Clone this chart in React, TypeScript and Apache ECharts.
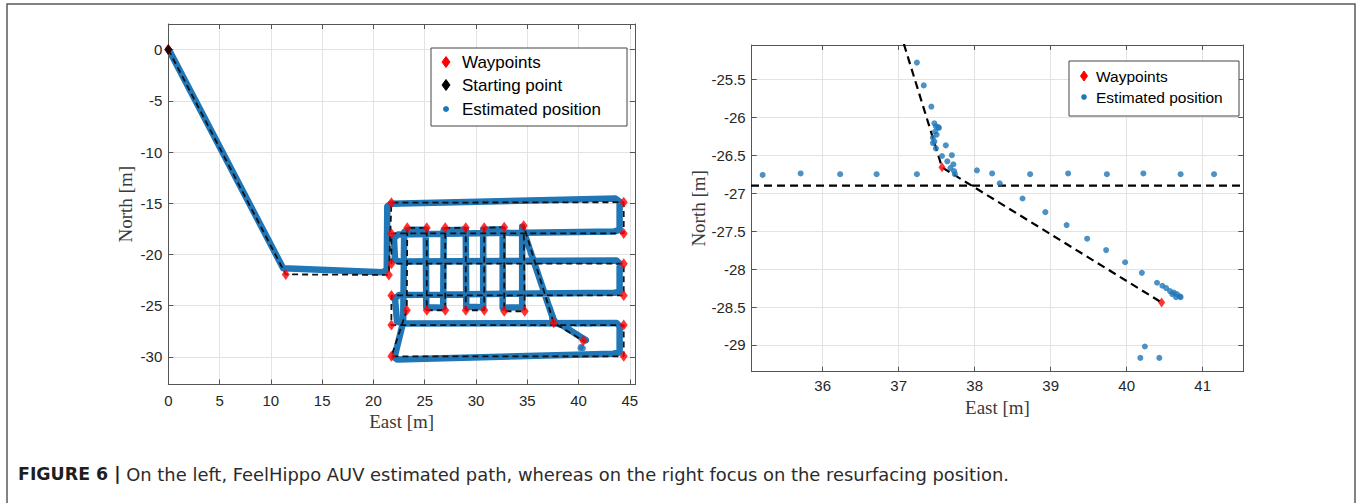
import React, { useEffect, useRef } from "react";
import * as echarts from "echarts";

// ---- Data -------------------------------------------------------------
// Waypoints of the planned mission (also the vertices of the dashed planned path)
const waypointEast = [0, 11.45, 21.5, 21.75, 44.4, 44.4, 21.75, 21.75, 44.4, 44.4, 21.75, 21.75, 44.4, 44.4, 21.75, 23.25, 23.3, 25.2, 25.2, 27.0, 27.0, 29.0, 29.0, 30.8, 30.8, 32.75, 32.75, 34.75, 34.65, 37.57, 40.46];
const waypointNorth = [0, -21.95, -22.0, -14.95, -14.9, -17.95, -17.95, -20.9, -20.9, -24.0, -24.0, -26.9, -26.9, -29.95, -29.95, -25.45, -17.4, -17.4, -25.45, -25.45, -17.4, -17.4, -25.45, -25.45, -17.4, -17.35, -25.55, -25.55, -17.2, -26.66, -28.44];

// Starting point
const startEast = [0];
const startNorth = [0];

// Estimated trajectory (overview, left panel)
const trackEast = [0.1, 11.2, 20.9, 21.3, 21.35, 21.7, 43.6, 44.0, 44.0, 43.5, 22.4, 22.0, 22.1, 22.6, 43.7, 44.0, 44.0, 43.5, 22.5, 22.1, 22.3, 22.8, 43.7, 44.0, 44.0, 43.4, 22.3, 22.05, 22.9, 23.0, 23.4, 25.1, 25.15, 26.8, 26.85, 29.0, 29.05, 30.7, 30.7, 32.6, 32.6, 34.5, 34.5, 37.45, 37.5, 37.72, 38.33, 40.2, 40.7];
const trackNorth = [-0.1, -21.35, -21.75, -21.5, -15.3, -15.05, -14.55, -14.85, -17.6, -17.75, -18.05, -18.4, -20.55, -20.7, -20.6, -20.9, -23.6, -23.75, -23.95, -24.3, -26.55, -26.75, -26.7, -27.0, -29.55, -29.7, -30.25, -30.05, -26.6, -17.8, -17.6, -17.6, -25.15, -25.2, -17.65, -17.6, -25.1, -25.15, -17.6, -17.55, -25.2, -25.15, -17.3, -26.1, -26.3, -26.7, -26.87, -28.05, -28.37];

// Estimated positions near the resurfacing point (right panel)
const fixEast = [35.21, 35.71, 36.23, 36.71, 37.24, 38.03, 38.23, 38.73, 39.23, 39.74, 40.22, 40.71, 41.15,
  37.24, 37.33, 37.43, 37.47, 37.49, 37.52, 37.48, 37.5, 37.45, 37.47, 37.45, 37.49, 37.53,
  37.62, 37.57, 37.7, 37.64, 37.72, 37.68, 37.73, 37.74,
  38.33, 38.63, 38.93, 39.21, 39.48, 39.73, 39.98, 40.2,
  40.4, 40.47, 40.52, 40.57, 40.62, 40.66, 40.7, 40.71, 40.65, 40.6,
  40.24, 40.18, 40.43];
const fixNorth = [-26.76, -26.74, -26.75, -26.75, -26.75, -26.7, -26.74, -26.75, -26.74, -26.75, -26.74, -26.75, -26.75,
  -25.28, -25.58, -25.86, -26.08, -26.12, -26.13, -26.19, -26.23, -26.27, -26.32, -26.34, -26.41, -26.14,
  -26.37, -26.51, -26.5, -26.58, -26.62, -26.67, -26.71, -26.75,
  -26.87, -27.07, -27.25, -27.42, -27.6, -27.75, -27.91, -28.05,
  -28.18, -28.22, -28.25, -28.29, -28.31, -28.33, -28.36, -28.37, -28.37, -28.33,
  -29.02, -29.17, -29.17];

// Axis ranges and tick labels
const leftEastRange = [0, 45.5];
const leftNorthRange = [-32.7, 2.5];
const rightEastRange = [35.066, 41.535];
const rightNorthRange = [-29.352, -25.048];
const leftEastTicks = [0, 5, 10, 15, 20, 25, 30, 35, 40, 45];
const leftNorthTicks = [0, -5, -10, -15, -20, -25, -30];
const rightEastTicks = [36, 37, 38, 39, 40, 41];
const rightNorthTicks = [-25.5, -26, -26.5, -27, -27.5, -28, -28.5, -29];

const legendLeftLabels = ["Waypoints", "Starting point", "Estimated position"];
const legendRightLabels = ["Waypoints", "Estimated position"];
const captionBold = "FIGURE 6 |";
const captionText = " On the left, FeelHippo AUV estimated path, whereas on the right focus on the resurfacing position.";

// ---- Styling ---------------------------------------------------------
const BLUE = "#2077b8";
const RED = "#ff0000";
const SANS = "Liberation Sans, Arial, sans-serif";
const CAPTION_FONT = "DejaVu Sans, Liberation Sans, sans-serif";
const SERIF = "Liberation Serif, Times New Roman, serif";
const AXIS_COLOR = "#555";

const pairs = (xs: number[], ys: number[]) => xs.map((x, i) => [x, ys[i]]);
const tickFormatter = (ticks: number[]) => (v: number) =>
  ticks.some((t) => Math.abs(t - v) < 1e-6) ? String(v) : "";

function makeAxes(
  gridIndex: number,
  range: number[],
  splitNumber: number,
  ticks: number[],
  isX: boolean,
  name: string,
  nameGap: number,
  labelMargin: number
) {
  const common = {
    type: "value",
    gridIndex,
    min: range[0],
    max: range[1],
    splitNumber,
    axisLine: { show: true, onZero: false, lineStyle: { color: AXIS_COLOR, width: 1 } },
    axisTick: { show: true, inside: true, length: 5, lineStyle: { color: AXIS_COLOR, width: 1 } },
  };
  const primary = {
    ...common,
    position: isX ? "bottom" : "left",
    axisLabel: {
      show: true,
      margin: labelMargin,
      fontSize: 15,
      color: "#262626",
      fontFamily: SANS,
      formatter: tickFormatter(ticks),
      showMinLabel: true,
      showMaxLabel: true,
    },
    splitLine: { show: true, lineStyle: { color: "#e3e3e3", width: 1 } },
    name,
    nameLocation: "middle",
    nameGap,
    nameTextStyle: { fontFamily: SERIF, fontSize: 19, color: "#3a3a3a" },
  };
  const secondary = {
    ...common,
    position: isX ? "top" : "right",
    axisLabel: { show: false },
    splitLine: { show: false },
  };
  return [primary, secondary];
}

function diamond(cx: number, cy: number, w: number, h: number, color: string) {
  return {
    type: "polygon",
    z: 101,
    shape: { points: [[cx, cy - h / 2], [cx + w / 2, cy], [cx, cy + h / 2], [cx - w / 2, cy]] },
    style: { fill: color, stroke: color },
  };
}

function legendText(x: number, y: number, text: string, size: number) {
  return {
    type: "text",
    z: 101,
    x,
    y,
    style: { text, fontSize: size, fontFamily: SANS, fill: "#000", verticalAlign: "middle", align: "left" },
  };
}

export default function App() {
  const ref = useRef<HTMLDivElement>(null);

  useEffect(() => {
    if (!ref.current) return;
    const chart = echarts.init(ref.current, undefined, { renderer: "svg" });

    const [lx0, lx1] = makeAxes(0, leftEastRange, 9, leftEastTicks, true, "East [m]", 26, 8);
    const [ly0, ly1] = makeAxes(0, leftNorthRange, 7, leftNorthTicks, false, "North [m]", 33, 6);
    const [rx0, rx1] = makeAxes(1, rightEastRange, 6, rightEastTicks, true, "East [m]", 20, 6);
    const [ry0, ry1] = makeAxes(1, rightNorthRange, 8, rightNorthTicks, false, "North [m]", 39, 6);

    const option = {
      animation: false,
      backgroundColor: "#ffffff",
      grid: [
        { left: 168.3, top: 24, width: 466.7, height: 360.5, containLabel: false },
        { left: 751.7, top: 45, width: 491.6, height: 326.7, containLabel: false },
      ],
      xAxis: [lx0, lx1, rx0, rx1],
      yAxis: [ly0, ly1, ry0, ry1],
      series: [
        {
          name: "Estimated position",
          type: "line",
          xAxisIndex: 0,
          yAxisIndex: 0,
          data: pairs(trackEast, trackNorth),
          showSymbol: false,
          symbol: "none",
          lineStyle: { color: BLUE, width: 6.5, cap: "round", join: "round" },
          z: 2,
        },
        {
          name: "Estimated position fixes",
          type: "scatter",
          xAxisIndex: 0,
          yAxisIndex: 0,
          data: pairs(fixEast, fixNorth),
          symbol: "circle",
          symbolSize: 6,
          itemStyle: { color: BLUE },
          z: 2,
        },
        {
          name: "Planned path",
          type: "line",
          xAxisIndex: 0,
          yAxisIndex: 0,
          data: pairs(waypointEast, waypointNorth),
          symbol: "none",
          lineStyle: { color: "#111", width: 1.8, type: [6, 4] },
          z: 3,
        },
        {
          name: "Waypoints",
          type: "scatter",
          xAxisIndex: 0,
          yAxisIndex: 0,
          data: pairs(waypointEast, waypointNorth),
          symbol: "diamond",
          symbolSize: [8, 11],
          itemStyle: { color: RED },
          z: 4,
        },
        {
          name: "Starting point",
          type: "scatter",
          xAxisIndex: 0,
          yAxisIndex: 0,
          data: pairs(startEast, startNorth),
          symbol: "diamond",
          symbolSize: [8, 11],
          itemStyle: { color: "#000" },
          z: 5,
        },
        {
          name: "Planned path (zoom)",
          type: "line",
          xAxisIndex: 2,
          yAxisIndex: 2,
          data: pairs(waypointEast, waypointNorth),
          symbol: "none",
          lineStyle: { color: "#000", width: 2.2, type: [8, 5] },
          z: 2,
        },
        {
          name: "Estimated position (zoom)",
          type: "scatter",
          xAxisIndex: 2,
          yAxisIndex: 2,
          data: pairs(fixEast, fixNorth),
          symbol: "circle",
          symbolSize: 6,
          itemStyle: { color: BLUE },
          z: 3,
        },
        {
          name: "Waypoints (zoom)",
          type: "scatter",
          xAxisIndex: 2,
          yAxisIndex: 2,
          data: pairs(waypointEast, waypointNorth),
          symbol: "diamond",
          symbolSize: [7, 10],
          itemStyle: { color: RED },
          z: 4,
        },
      ],
      graphic: [
        {
          type: "rect",
          z: 0,
          shape: { x: 7, y: 4, width: 1348, height: 530 },
          style: { fill: "none", stroke: "#5a5a5a", lineWidth: 1.5 },
        },
        {
          type: "text",
          z: 101,
          x: 18,
          y: 474,
          style: {
            text: `{b|${captionBold}}${captionText}`,
            fontSize: 17.9,
            fontFamily: CAPTION_FONT,
            fill: "#2b2b2b",
            verticalAlign: "middle",
            rich: { b: { fontWeight: "bold", fontSize: 17.4, fontFamily: CAPTION_FONT, fill: "#1e1e1e" } },
          },
        },
        // left legend
        {
          type: "rect",
          z: 100,
          shape: { x: 431, y: 48, width: 196, height: 78 },
          style: { fill: "#fff", stroke: "#444", lineWidth: 1 },
        },
        diamond(446, 62, 8, 11, RED),
        legendText(462, 62, legendLeftLabels[0], 17),
        diamond(446, 85, 8, 11, "#000"),
        legendText(462, 85, legendLeftLabels[1], 17),
        { type: "circle", z: 101, shape: { cx: 446, cy: 109, r: 3 }, style: { fill: BLUE } },
        legendText(462, 109, legendLeftLabels[2], 17),
        // right legend
        {
          type: "rect",
          z: 100,
          shape: { x: 1069, y: 61, width: 170, height: 55 },
          style: { fill: "#fff", stroke: "#444", lineWidth: 1 },
        },
        diamond(1084, 76, 7, 10, RED),
        legendText(1096, 76, legendRightLabels[0], 15.5),
        { type: "circle", z: 101, shape: { cx: 1084, cy: 97, r: 2.8 }, style: { fill: BLUE } },
        legendText(1096, 97, legendRightLabels[1], 15.5),
      ],
    };

    chart.setOption(option as any);
    return () => chart.dispose();
  }, []);

  return (
    <div
      ref={ref}
      style={{ position: "absolute", left: 0, top: 0, width: 1357, height: 503, background: "#fff" }}
    />
  );
}
